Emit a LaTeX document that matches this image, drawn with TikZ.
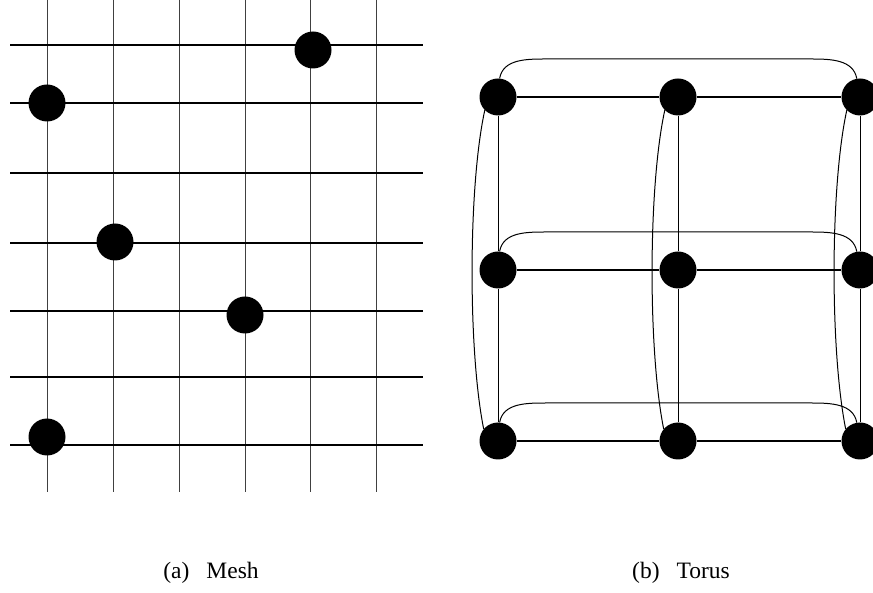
\documentclass[tikz,border=0pt]{standalone}
\usepackage{fontspec}
\setmainfont{Liberation Serif}
\begin{document}
\begin{tikzpicture}[x=1pt,y=1pt,
  proc/.style={circle,fill=black,inner sep=0pt,minimum size=37pt},
  hline/.style={line width=1.2pt},
  vline/.style={line width=0.8pt,black!75},
  wrap/.style={line width=1pt},
  caption/.style={font=\fontsize{23.5}{28}\selectfont}]
\useasboundingbox (0,0) rectangle (873,592);

\foreach \x in {47,113,179,245,310,376}
  \draw[vline] (\x,592) -- (\x,100);
\foreach \y in {547,489,419,349,281,215,147}
  \draw[hline] (10,\y) -- (423,\y);

\node[proc] (m1) at (313,542) {};
\node[proc] (m2) at (47,489) {};
\node[proc] (m3) at (115,350) {};
\node[proc] (m4) at (245,277) {};
\node[proc] (m5) at (47,155) {};

\foreach \r/\y in {1/495,2/322,3/151}
  \foreach \c/\x in {1/498,2/678,3/860}
    \node[proc] (t\r\c) at (\x,\y) {};

\foreach \r in {1,2,3}
  \draw[hline] (t\r1) -- (t\r2) -- (t\r3);
\foreach \c in {1,2,3}
  \draw[wrap] (t1\c) -- (t2\c) -- (t3\c);

\foreach \r in {1,2,3}
  \draw[wrap] (t\r1.85) to[out=80,in=180] ([xshift=48pt,yshift=38pt]t\r1.center)
    -- ([xshift=-48pt,yshift=38pt]t\r3.center) to[out=0,in=100] (t\r3.100);
\foreach \c in {1,2,3}
  \draw[wrap] (t1\c.225) .. controls ([xshift=-30pt,yshift=-90pt]t1\c.center)
    and ([xshift=-30pt,yshift=90pt]t3\c.center) .. (t3\c.140);

\node[caption] (capa) at (211,19) {(a)\hspace{17pt}Mesh};
\node[caption] (capb) at (681,19) {(b)\hspace{17pt}Torus};
\end{tikzpicture}
\end{document}
